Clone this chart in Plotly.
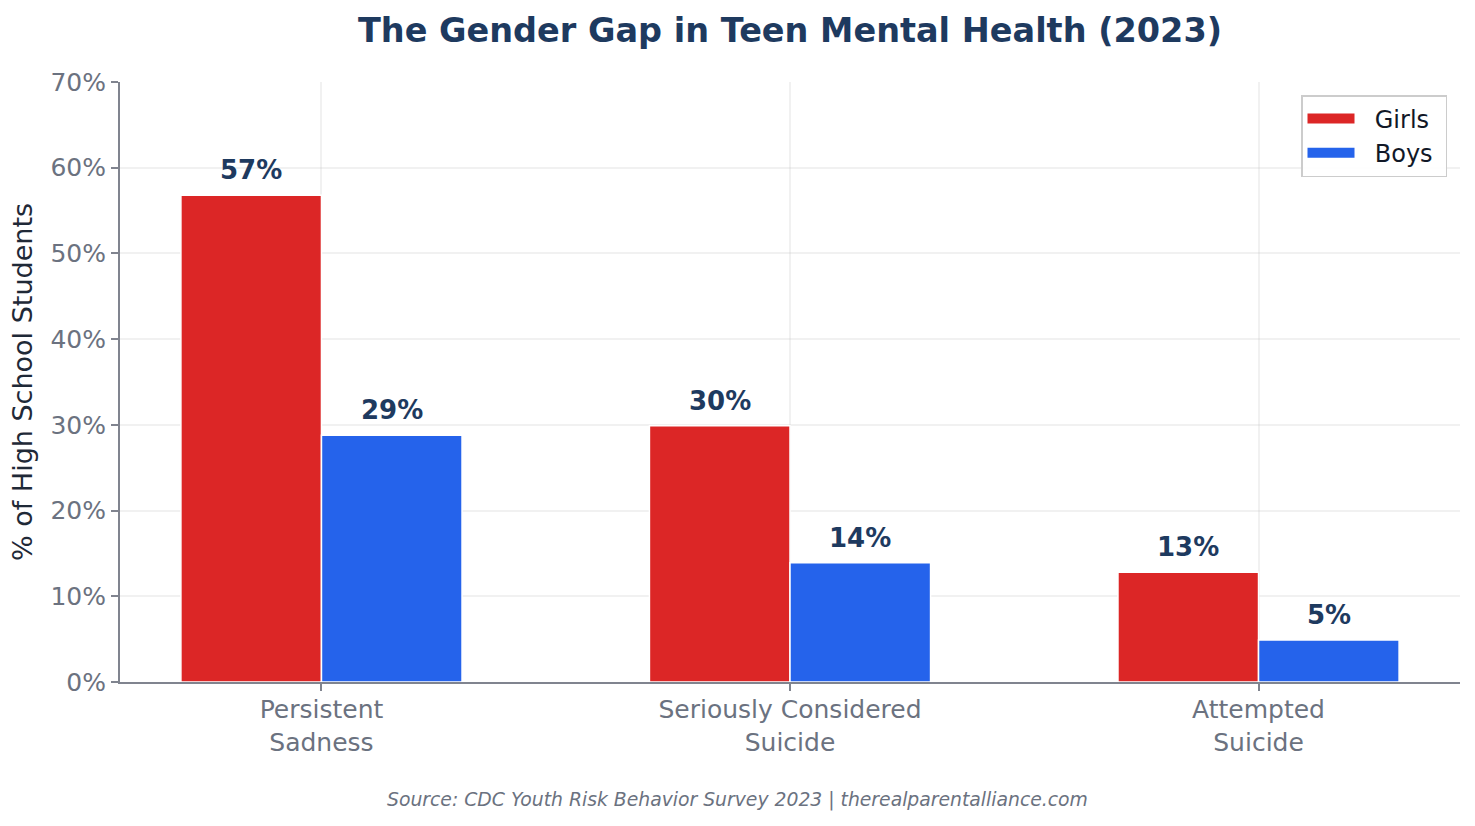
import plotly.graph_objects as go

categories = ["Persistent<br>Sadness", "Seriously Considered<br>Suicide", "Attempted<br>Suicide"]
girls = [56.8, 29.9, 12.8]
boys = [28.8, 13.9, 4.9]
series_names = ["Girls", "Boys"]
colors = ["#dc2626", "#2563eb"]
y_ticks = [0, 10, 20, 30, 40, 50, 60, 70]

FONT = "DejaVu Sans"
fig = go.Figure()
for name, vals, col in zip(series_names, [girls, boys], colors):
    fig.add_trace(go.Bar(
        x=categories, y=vals, name=name, showlegend=False,
        marker=dict(color=col, line=dict(color="white", width=1.5)),
        hoverinfo="skip",
    ))
# legend entries drawn as wide swatches
for name, col in zip(series_names, colors):
    fig.add_trace(go.Scatter(
        x=[None], y=[None], mode="lines", name="\u00a0\u00a0" + name + "\u00a0",
        line=dict(color=col, width=16), hoverinfo="skip",
    ))

# value labels above bars
plot_w = 1475 - 120 - 15
cat_px = plot_w / (2.43 + 0.43)
offset_px = 0.15 * cat_px
for sign, vals in zip([-1, 1], [girls, boys]):
    for c, v in zip(categories, vals):
        fig.add_annotation(
            x=c, y=v, xref="x", yref="y", text=f"<b>{v:.0f}%</b>",
            showarrow=False, xshift=sign * offset_px, yshift=25, yanchor="middle",
            font=dict(family=FONT, size=26, color="#1e3a5f"),
        )

fig.add_annotation(
    text="<i>Source: CDC Youth Risk Behavior Survey 2023 | therealparentalliance.com</i>",
    xref="paper", yref="paper", x=(737.5 - 120) / plot_w, y=(682 - 800) / 600,
    showarrow=False, xanchor="center", yanchor="middle",
    font=dict(family=FONT, size=18.8, color="#6b7280"),
)

grid = "rgba(190,190,190,0.22)"
axis_col = "#80848f"
fig.update_layout(
    width=1475, height=826,
    margin=dict(l=120, r=15, t=82, b=144),
    paper_bgcolor="white", plot_bgcolor="white",
    font=dict(family=FONT, color="#6b7280"),
    barmode="group", bargap=0.4, bargroupgap=0,
    title=dict(text="<b>The Gender Gap in Teen Mental Health (2023)</b>",
               x=0.5, xref="paper", xanchor="center",
               y=1 - 30 / 826, yref="container", yanchor="middle",
               font=dict(family=FONT, size=33.5, color="#1e3a5f")),
    legend=dict(x=(1447 - 120) / plot_w, y=(682 - 95) / 600, xanchor="right", yanchor="top",
                bgcolor="rgba(255,255,255,0.9)", bordercolor="#cccccc", borderwidth=1.5,
                itemwidth=47,
                font=dict(family=FONT, size=24, color="#111827")),
    xaxis=dict(range=[-0.43, 2.43], showgrid=True, gridcolor=grid, gridwidth=1.5,
               showline=True, linecolor=axis_col, linewidth=2,
               ticks="outside", ticklen=7, tickwidth=1.5, tickcolor=axis_col,
               ticklabelstandoff=-3,
               tickfont=dict(family=FONT, size=25, color="#6b7280"),
               layer="above traces", fixedrange=True),
    yaxis=dict(range=[0, 70], tickvals=y_ticks, ticktext=[f"{t}%" for t in y_ticks],
               showgrid=True, gridcolor=grid, gridwidth=1.5, zeroline=False,
               showline=True, linecolor=axis_col, linewidth=2,
               ticks="outside", ticklen=7, tickwidth=1.5, tickcolor=axis_col,
               tickfont=dict(family=FONT, size=25, color="#6b7280"),
               title=dict(text="% of High School Students", standoff=10,
                          font=dict(family=FONT, size=27, color="#1f2937")),
               layer="above traces", fixedrange=True),
)

fig.write_html("out.html")
